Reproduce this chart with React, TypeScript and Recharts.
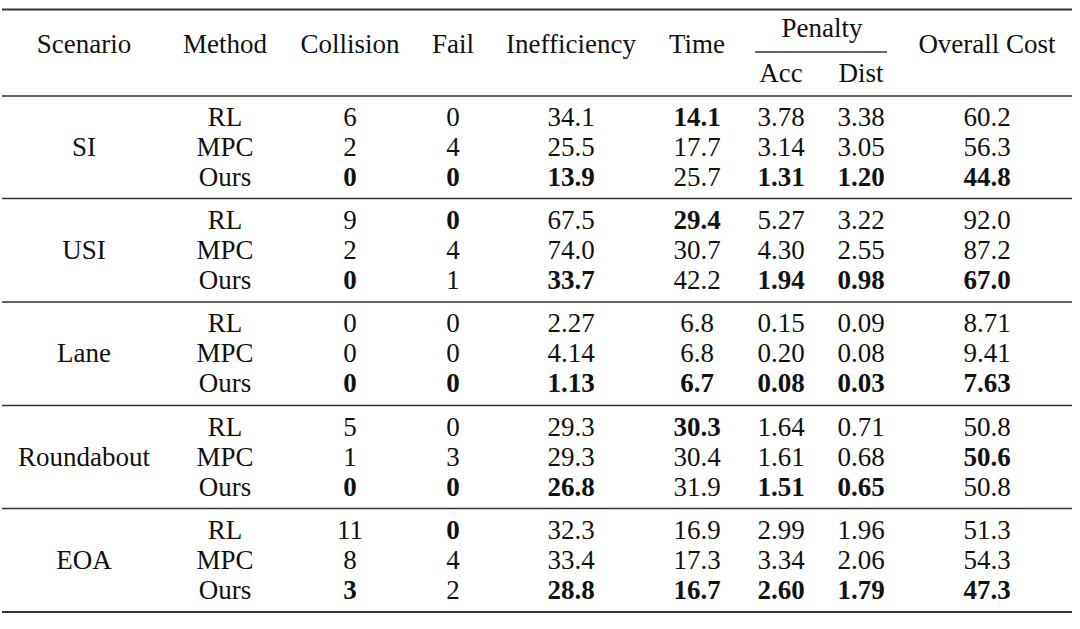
import React from 'react';
import { ScatterChart, Scatter, XAxis, YAxis, ReferenceLine } from 'recharts';

// table content
const scenarios = ['SI', 'USI', 'Lane', 'Roundabout', 'EOA'];
const methods = ['RL', 'MPC', 'Ours'];
const columnKeys = ['collision', 'fail', 'inefficiency', 'time', 'acc', 'dist', 'overall'];
const headerLabels = ['Scenario', 'Method', 'Collision', 'Fail', 'Inefficiency', 'Time', 'Acc', 'Dist', 'Overall Cost'];
const groupLabel = 'Penalty';

const collision = [['6', '2', '0'], ['9', '2', '0'], ['0', '0', '0'], ['5', '1', '0'], ['11', '8', '3']];
const fail = [['0', '4', '0'], ['0', '4', '1'], ['0', '0', '0'], ['0', '3', '0'], ['0', '4', '2']];
const inefficiency = [['34.1', '25.5', '13.9'], ['67.5', '74.0', '33.7'], ['2.27', '4.14', '1.13'], ['29.3', '29.3', '26.8'], ['32.3', '33.4', '28.8']];
const time = [['14.1', '17.7', '25.7'], ['29.4', '30.7', '42.2'], ['6.8', '6.8', '6.7'], ['30.3', '30.4', '31.9'], ['16.9', '17.3', '16.7']];
const acc = [['3.78', '3.14', '1.31'], ['5.27', '4.30', '1.94'], ['0.15', '0.20', '0.08'], ['1.64', '1.61', '1.51'], ['2.99', '3.34', '2.60']];
const dist = [['3.38', '3.05', '1.20'], ['3.22', '2.55', '0.98'], ['0.09', '0.08', '0.03'], ['0.71', '0.68', '0.65'], ['1.96', '2.06', '1.79']];
const overall = [['60.2', '56.3', '44.8'], ['92.0', '87.2', '67.0'], ['8.71', '9.41', '7.63'], ['50.8', '50.6', '50.8'], ['51.3', '54.3', '47.3']];

const boldCells = [
  'SI/RL/time', 'SI/Ours/collision', 'SI/Ours/fail', 'SI/Ours/inefficiency', 'SI/Ours/acc', 'SI/Ours/dist', 'SI/Ours/overall',
  'USI/RL/fail', 'USI/RL/time', 'USI/Ours/collision', 'USI/Ours/inefficiency', 'USI/Ours/acc', 'USI/Ours/dist', 'USI/Ours/overall',
  'Lane/Ours/collision', 'Lane/Ours/fail', 'Lane/Ours/inefficiency', 'Lane/Ours/time', 'Lane/Ours/acc', 'Lane/Ours/dist', 'Lane/Ours/overall',
  'Roundabout/RL/time', 'Roundabout/MPC/overall', 'Roundabout/Ours/collision', 'Roundabout/Ours/fail', 'Roundabout/Ours/inefficiency', 'Roundabout/Ours/acc', 'Roundabout/Ours/dist',
  'EOA/RL/fail', 'EOA/Ours/collision', 'EOA/Ours/inefficiency', 'EOA/Ours/time', 'EOA/Ours/acc', 'EOA/Ours/dist', 'EOA/Ours/overall',
];

// layout (pixels)
const W = 1080;
const H = 629;
const tableLeft = 2;
const tableRight = 1072;
const colWidths = [164, 118, 132, 74, 162, 90, 78, 82, 170];
const colStarts = colWidths.map((_, i) => tableLeft + colWidths.slice(0, i).reduce((a, b) => a + b, 0));
const colCenters = colWidths.map((w, i) => colStarts[i] + w / 2);
const topRule = 9.5;
const groupRules = [96, 198.5, 302, 405.5, 508.5, 612];
const headerBase = 53;
const penaltyBase = 37;
const subHeaderBase = 82;
const rowOffset = 30;
const rowPitch = 30;

const table = [collision, fail, inefficiency, time, acc, dist, overall];

type CellMark = { x: number; y: number; label: string; bold?: boolean };

const cells: CellMark[] = [];
headerLabels.forEach((h, i) => {
  const isSub = i === 6 || i === 7;
  cells.push({ x: colCenters[i], y: isSub ? subHeaderBase : headerBase, label: h });
});
cells.push({ x: (colStarts[6] + colStarts[8]) / 2, y: penaltyBase, label: groupLabel });
scenarios.forEach((s, g) => {
  cells.push({ x: colCenters[0], y: groupRules[g] + rowOffset + rowPitch, label: s, bold: false });
  methods.forEach((m, r) => {
    const y = groupRules[g] + rowOffset + r * rowPitch;
    cells.push({ x: colCenters[1], y, label: m });
    table.forEach((col, c) => {
      cells.push({
        x: colCenters[c + 2],
        y,
        label: col[g][r],
        bold: boldCells.includes(`${s}/${m}/${columnKeys[c]}`),
      });
    });
  });
});

const TextMark = (props: any) => {
  const { cx, cy, payload } = props;
  return (
    <text
      x={cx}
      y={cy}
      textAnchor="middle"
      fontFamily="'Liberation Serif', 'Times New Roman', serif"
      fontSize={27}
      fontWeight={payload.bold ? 700 : 400}
      fill="#111"
    >
      {payload.label}
    </text>
  );
};

const lineColor = '#333';

export default function App() {
  return (
    <div style={{ position: 'absolute', left: 0, top: 0, background: '#fff' }}>
      <ScatterChart width={W} height={H} margin={{ top: 0, right: 0, bottom: 0, left: 0 }}>
        <XAxis type="number" dataKey="x" domain={[0, W]} allowDataOverflow hide />
        <YAxis type="number" dataKey="y" domain={[0, H]} allowDataOverflow reversed hide />
        <ReferenceLine
          segment={[{ x: tableLeft, y: topRule }, { x: tableRight, y: topRule }]}
          stroke={lineColor}
          strokeWidth={2.2}
        />
        <ReferenceLine
          segment={[{ x: colStarts[6] + 13, y: 52 }, { x: colStarts[8] - 15, y: 52 }]}
          stroke={lineColor}
          strokeWidth={1.3}
        />
        {groupRules.map((gy, i) => (
          <ReferenceLine
            key={`rule-${i}`}
            segment={[{ x: tableLeft, y: gy }, { x: tableRight, y: gy }]}
            stroke={lineColor}
            strokeWidth={i === groupRules.length - 1 ? 2.2 : 1.4}
          />
        ))}
        <Scatter data={cells} shape={TextMark} isAnimationActive={false} />
      </ScatterChart>
    </div>
  );
}
